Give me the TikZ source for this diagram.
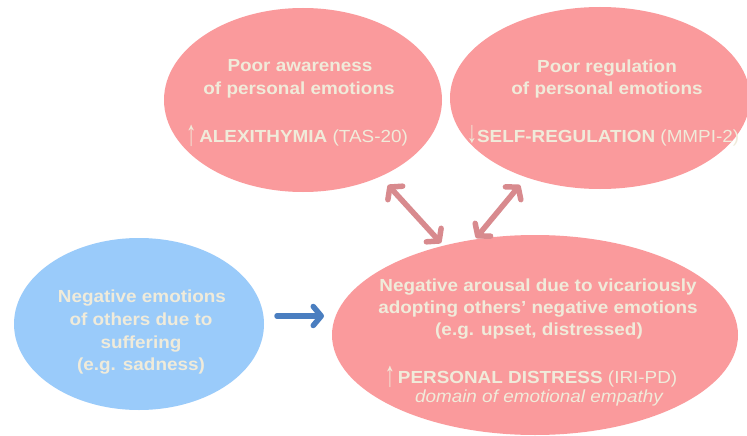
\documentclass[tikz,border=0pt]{standalone}
\usepackage{fontspec}
\setmainfont{Liberation Sans}[FakeStretch=1.08]
\usetikzlibrary{shapes.geometric,arrows.meta}
\definecolor{pinkfill}{HTML}{FA9A9C}
\definecolor{bluefill}{HTML}{9ACBFA}
\definecolor{cream}{HTML}{F0EBDA}
\definecolor{pinkarrow}{HTML}{D88A8E}
\definecolor{bluearrow}{HTML}{4A7EC0}
\tikzset{
  bubble/.style={ellipse, draw=none, inner sep=0pt},
  pinkbubble/.style={bubble, fill=pinkfill},
  bluebubble/.style={bubble, fill=bluefill},
  txt/.style={anchor=base, inner sep=0pt, text=cream, font=\fontsize{17.5}{21}\selectfont\bfseries},
  dblarrow/.style={draw=pinkarrow, line width=5.5pt, line cap=round,
    {Straight Barb[length=8pt,width=20pt,round]}-{Straight Barb[length=8pt,width=20pt,round]}},
  fwdarrow/.style={draw=bluearrow, line width=5.5pt, line cap=round,
    -{Straight Barb[length=8pt,width=19pt,round]}}
}
\newcommand{\upar}{{\mdseries\fontsize{19}{19}\selectfont\raisebox{-3pt}{\scalebox{1}[1.9]{↑}}}}
\newcommand{\downar}{{\mdseries\fontsize{19}{19}\selectfont\raisebox{0pt}{\scalebox{1}[1.6]{↓}}}}
\begin{document}
\begin{tikzpicture}[x=1pt,y=-1pt]
\fill[white] (0,0) rectangle (747,436);
\useasboundingbox (0,0) rectangle (747,436);

% ellipses
\node[pinkbubble, minimum width=278pt, minimum height=184pt] (aware) at (303,100) {};
\node[pinkbubble, minimum width=300pt, minimum height=182pt] (regul) at (600,98) {};
\node[bluebubble, minimum width=250pt, minimum height=172pt] (others) at (139,324) {};
\node[pinkbubble, minimum width=406pt, minimum height=200pt] (distress) at (535,335) {};

% texts: top-left
\node[txt] (aw1) at (300,72) {Poor awareness};
\node[txt] (aw2) at (299,95) {of personal emotions};
\node[txt] (aw3) at (297,142) {\upar\,ALEXITHYMIA {\mdseries(TAS-20)}};

% texts: top-right
\node[txt] (rg1) at (607,73) {Poor regulation};
\node[txt] (rg2) at (607,95) {of personal emotions};
\node[txt] (rg3) at (603,142) {\downar SELF-REGULATION {\mdseries(MMPI-2)}};

% texts: blue
\node[txt] (ot1) at (142,302) {Negative emotions};
\node[txt] (ot2) at (141,325) {of others due to};
\node[txt] (ot3) at (141,348) {suffering};
\node[txt] (ot4) at (141,370) {(e.g. sadness)};

% texts: bottom-right
\node[txt] (ds1) at (538,291) {Negative arousal due to vicariously};
\node[txt] (ds2) at (538,313) {adopting others’ negative emotions};
\node[txt] (ds3) at (539,335) {(e.g. upset, distressed)};
\node[txt] (ds4) at (531,383) {\upar\,PERSONAL DISTRESS {\mdseries(IRI-PD)}};
\node[txt, font=\fontsize{17.5}{21}\selectfont\itshape] (ds5) at (539,402) {domain of emotional empathy};

% connectors
\coordinate (a1s) at (388,185);
\coordinate (a1e) at (441,243);
\coordinate (a2s) at (476,238);
\coordinate (a2e) at (520,185);
\coordinate (b1s) at (277,316);
\coordinate (b1e) at (324,316);
\draw[dblarrow] (a1s) -- (a1e);
\draw[dblarrow] (a2s) -- (a2e);
\draw[fwdarrow] (b1s) -- (b1e);
\end{tikzpicture}
\end{document}
